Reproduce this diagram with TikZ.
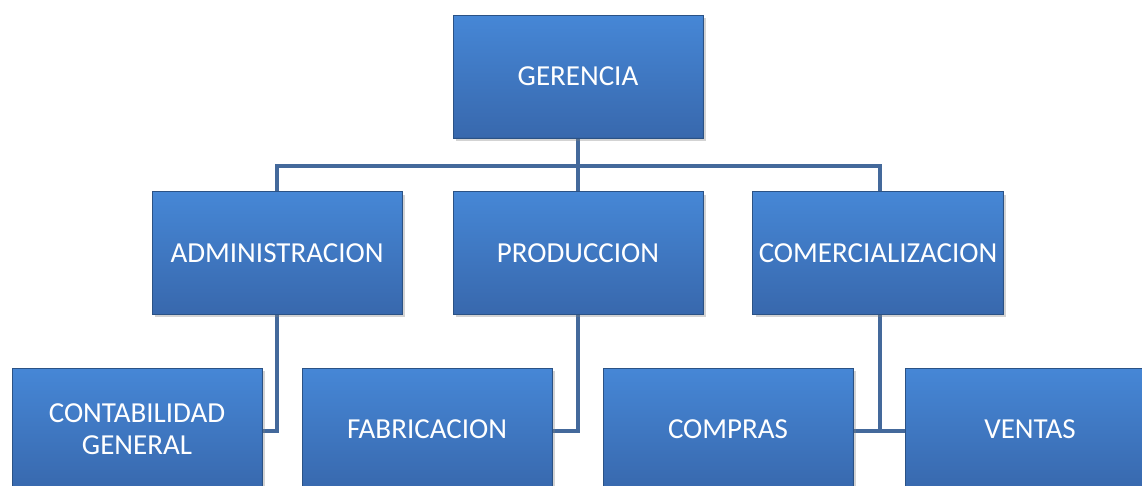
\documentclass[tikz,border=0pt]{standalone}
\usepackage{fontspec}
\setmainfont{Carlito}
\usetikzlibrary{shadows}
\definecolor{boxtop}{HTML}{4687D6}
\definecolor{boxbot}{HTML}{3868AD}
\definecolor{boxline}{HTML}{2B5285}
\definecolor{conn}{HTML}{44699B}
\tikzset{
	unit/.style={rectangle, minimum width=5cm, minimum height=2.46cm, top color=boxtop, bottom color=boxbot,
		draw=boxline, line width=0.5pt, text=white, align=center, font=\fontsize{16.5}{18}\selectfont,
		drop shadow={shadow xshift=0.06cm, shadow yshift=-0.06cm, opacity=0.35},
		path picture={
			\def\bb{path picture bounding box}
			\fill[white,opacity=0.35] (\bb.north west) -- (\bb.north east) -- ([shift={(-0.15,-0.15)}]\bb.north east) -- ([shift={(0.15,-0.15)}]\bb.north west) -- cycle;
			\fill[white,opacity=0.15] (\bb.north west) -- (\bb.south west) -- ([shift={(0.15,0.15)}]\bb.south west) -- ([shift={(0.15,-0.15)}]\bb.north west) -- cycle;
			\fill[black,opacity=0.15] (\bb.north east) -- (\bb.south east) -- ([shift={(-0.15,0.15)}]\bb.south east) -- ([shift={(-0.15,-0.15)}]\bb.north east) -- cycle;
			\fill[black,opacity=0.28] (\bb.south west) -- (\bb.south east) -- ([shift={(-0.15,0.15)}]\bb.south east) -- ([shift={(0.15,0.15)}]\bb.south west) -- cycle;
		}},
	link/.style={conn, line width=2.8pt}
}
\begin{document}
\begin{tikzpicture}[x=0.02cm, y=-0.02cm]
	\useasboundingbox (0,0) rectangle (1142,486);
	\clip (0,0) rectangle (1142,486);
	\coordinate (bus) at (578,166);
	% connectors
	\draw[link] (578,138) -- (bus) -| (277,192);
	\draw[link] (bus) -| (880,192);
	\draw[link] (bus) -- (578,192);
	\draw[link] (277,314) |- (262,431);
	\draw[link] (578,314) |- (552,431);
	\draw[link] (880,314) |- (853,431);
	\draw[link] (880,431) -- (905,431);
	% boxes
	\node[unit] (ger) at (578,76.5) {GERENCIA};
	\node[unit] (adm) at (277,253) {ADMINISTRACION};
	\node[unit] (pro) at (578,253) {PRODUCCION};
	\node[unit] (com) at (878,253) {COMERCIALIZACION};
	\node[unit] (cont) at (137,429.5) {CONTABILIDAD\\GENERAL};
	\node[unit] (fab) at (427,429.5) {FABRICACION};
	\node[unit] (cpr) at (728,429.5) {COMPRAS};
	\node[unit] (ven) at (1030,429.5) {VENTAS};
\end{tikzpicture}
\end{document}
